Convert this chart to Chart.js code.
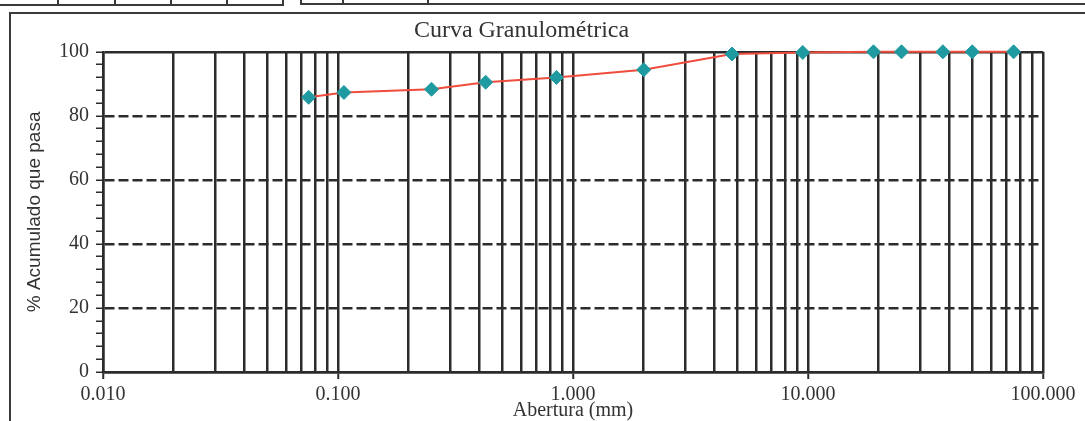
<!DOCTYPE html>
<html>
<head>
<meta charset="utf-8">
<script src="https://cdn.jsdelivr.net/npm/chart.js@4/dist/chart.umd.min.js"></script>
<style>
  html, body { margin: 0; padding: 0; background: #fff; }
  #wrap { position: relative; width: 1085px; height: 421px; overflow: hidden; }
  .ln { position: absolute; background: #3a3a3a; }
  canvas { position: absolute; left: 0; top: 0; }
</style>
</head>
<body>
<div id="wrap">
  <!-- top table fragments -->
  <div class="ln" style="left:0;top:4px;width:284px;height:2px"></div>
  <div class="ln" style="left:57px;top:0;width:2px;height:6px"></div>
  <div class="ln" style="left:114px;top:0;width:2px;height:6px"></div>
  <div class="ln" style="left:170px;top:0;width:2px;height:6px"></div>
  <div class="ln" style="left:226px;top:0;width:2px;height:6px"></div>
  <div class="ln" style="left:282px;top:0;width:2px;height:6px"></div>
  <div class="ln" style="left:300px;top:3px;width:785px;height:2px"></div>
  <div class="ln" style="left:300px;top:0;width:2px;height:5px"></div>
  <div class="ln" style="left:342px;top:0;width:2px;height:5px"></div>
  <div class="ln" style="left:427px;top:0;width:2px;height:5px"></div>
  <!-- outer frame -->
  <div class="ln" style="left:9px;top:12px;width:1076px;height:2px"></div>
  <div class="ln" style="left:9px;top:12px;width:2px;height:409px"></div>
  <canvas id="c" width="1085" height="421"></canvas>
</div>
<script>
// ---- data ----
const sieveSizes = [0.075, 0.106, 0.250, 0.425, 0.850, 2.000, 4.750, 9.500, 19.000, 25.000, 37.500, 50.000, 75.000];
const percentPassing = [85.8, 87.3, 88.3, 90.5, 92.0, 94.4, 99.3, 99.8, 100, 100, 100, 100, 100];
const xDecades = [0.01, 0.1, 1, 10, 100];
const xMultipliers = [1, 2, 3, 4, 5, 6, 7, 8, 9];
const yLabelValues = [0, 20, 40, 60, 80, 100];

const xGridValues = [];
xDecades.forEach(d => {
  if (d === 100) { xGridValues.push(100); return; }
  xMultipliers.forEach(m => xGridValues.push(+(d * m).toPrecision(6)));
});

const isDecade = v => xDecades.some(d => Math.abs(d - v) < 1e-9);
const GRID = '#2c2c2c';
const TXT = '#333';

new Chart(document.getElementById('c'), {
  type: 'line',
  data: {
    datasets: [{
      data: sieveSizes.map((s, i) => ({ x: s, y: percentPassing[i] })),
      borderColor: '#ef4c3c',
      borderWidth: 2,
      pointStyle: 'rectRot',
      pointRadius: 7,
      pointBackgroundColor: '#1f9aa0',
      pointBorderColor: '#1f9aa0',
      pointBorderWidth: 1,
      tension: 0,
      clip: false
    }]
  },
  options: {
    responsive: false,
    animation: false,
    events: [],
    layout: { padding: { left: 0, right: 42, top: 0, bottom: 0 } },
    plugins: {
      legend: { display: false },
      tooltip: { enabled: false },
      title: {
        display: true,
        text: 'Curva Granulométrica',
        color: TXT,
        font: { family: 'Liberation Serif', size: 24, weight: 'normal', lineHeight: 1.2 },
        padding: { top: 16, bottom: 7 }
      }
    },
    scales: {
      x: {
        type: 'logarithmic',
        min: 0.01,
        max: 100,
        afterBuildTicks: scale => { scale.ticks = xGridValues.map(v => ({ value: v, major: isDecade(v) })); },
        afterFit: scale => { scale.height = 49; },
        ticks: {
          autoSkip: false,
          maxRotation: 0,
          minRotation: 0,
          padding: 4,
          color: TXT,
          font: { family: 'Liberation Serif', size: 20, lineHeight: 1.2 },
          callback: v => isDecade(v) ? v.toFixed(3) : ''
        },
        grid: {
          color: GRID,
          lineWidth: 2.5,
          tickLength: 7,
          tickColor: ctx => (ctx.tick && isDecade(ctx.tick.value)) ? GRID : 'rgba(0,0,0,0)',
          tickWidth: 2
        },
        border: { display: true, color: GRID, width: 2.5 },
        title: {
          display: true,
          text: 'Abertura (mm)',
          color: TXT,
          font: { family: 'Liberation Serif', size: 20, lineHeight: 1.0 },
          padding: { top: 0, bottom: 0 }
        }
      },
      y: {
        min: 0,
        max: 100,
        afterBuildTicks: scale => {
          const t = [];
          for (let v = 0; v <= 100; v += 4) t.push({ value: v });
          scale.ticks = t;
        },
        afterFit: scale => { scale.width = 103; },
        ticks: {
          autoSkip: false,
          padding: 7,
          color: TXT,
          font: { family: 'Liberation Serif', size: 20 },
          callback: v => yLabelValues.includes(v) ? String(v) : ''
        },
        grid: {
          color: ctx => (ctx.tick && ctx.tick.value % 20 === 0) ? GRID : 'rgba(0,0,0,0)',
          lineWidth: 2.5,
          tickLength: 7,
          tickColor: GRID,
          tickWidth: 1.5
        },
        border: {
          display: true,
          color: GRID,
          width: 2.5,
          dash: ctx => (ctx.tick && ctx.tick.value > 0 && ctx.tick.value < 100) ? [10, 4] : []
        },
        title: {
          display: true,
          text: '% Acumulado que pasa',
          color: TXT,
          font: { family: 'Liberation Sans', size: 19, lineHeight: 1.2 },
          padding: { top: 23, bottom: 0 }
        }
      }
    }
  }
});
</script>
</body>
</html>
